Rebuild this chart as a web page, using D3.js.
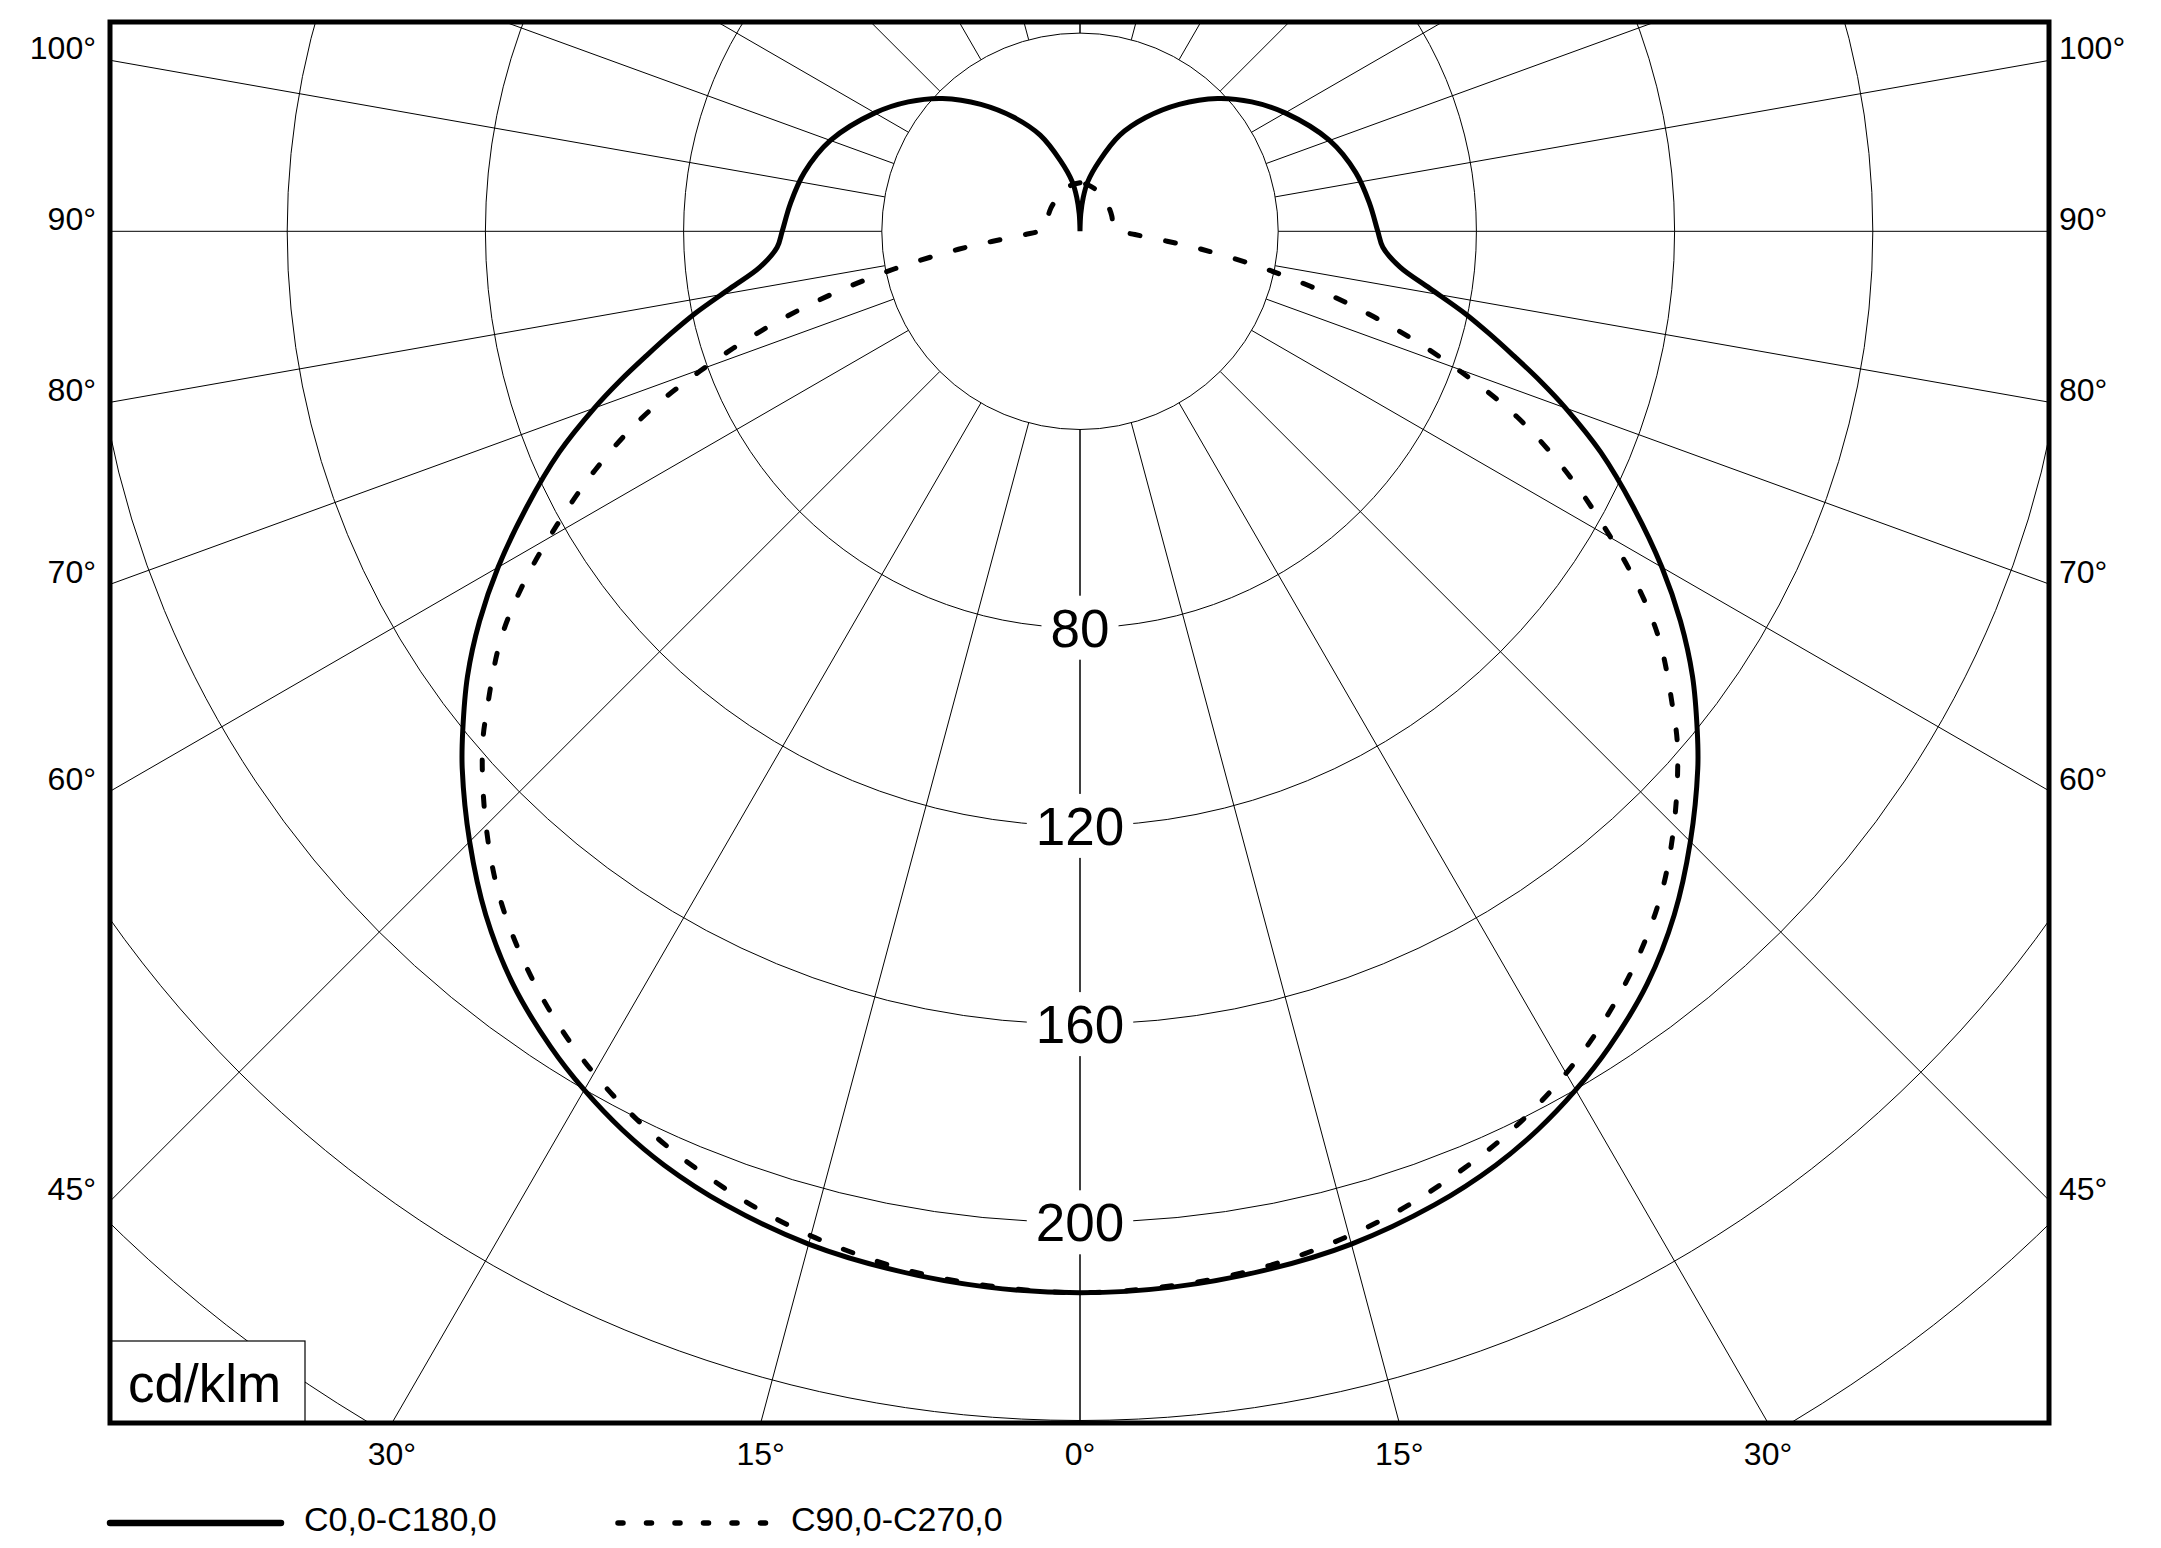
<!DOCTYPE html>
<html>
<head>
<meta charset="utf-8">
<script src="https://cdn.jsdelivr.net/npm/d3@7"></script>
<style>
    body { margin: 0; background: #fff; }
    svg text { font-family: "Liberation Sans", Arial, sans-serif; fill: #000; }
</style>
</head>
<body>
<div id="polarvis"></div>
<script>

// gamma angle (deg from nadir) and luminous intensity (cd/klm)
const gammaC0 = [0, 5, 10, 15, 20, 24, 27, 30, 33, 37, 41, 45, 49, 51, 54, 57, 60, 63.5, 67, 70, 72, 74, 76, 78, 80.7, 83.6, 87, 90, 95.5, 102, 110, 120, 127, 134, 142, 150, 157.5, 164.5, 171, 174.5, 177.5, 180];
const intensityC0 = [214.2, 213.9, 213.0, 211.6, 209.1, 206.3, 203.5, 200.1, 196.2, 190.2, 182.8, 174.2, 165.2, 160.3, 152.8, 144.5, 135.6, 124.8, 114.2, 104.3, 97.6, 91.0, 85.0, 79.3, 71.6, 65.0, 61.2, 60.1, 58.7, 56.9, 53.6, 47.8, 43.4, 38.6, 32.5, 26.5, 21.0, 14.8, 10.2, 6.9, 3.5, 0];

const gammaC90 = [0, 5, 9.3, 13.3, 17.3, 21.2, 25.2, 29.3, 33.2, 37.2, 41.2, 45.1, 49.2, 51.2, 54.8, 57.7, 60.7, 63.8, 67, 69.8, 72.7, 75.6, 78.6, 81.6, 83.5, 86.6, 90, 96, 102, 115, 128, 140, 155, 170, 180];
const intensityC90 = [214.2, 213.6, 212.6, 210.8, 208.4, 205.3, 201.7, 197.1, 191.8, 185.4, 178.0, 169.3, 159.3, 153.5, 143.1, 132.8, 121.0, 109.0, 95.8, 81.7, 67.2, 52.6, 38.0, 24.8, 17.7, 11.1, 8.3, 7.1, 6.8, 7.1, 7.5, 7.9, 8.8, 9.5, 9.8];

// grid
const ringValues = [40, 80, 120, 160, 200, 240, 280];
const ringLabels = [80, 120, 160, 200];
const spokeAngles = [0, 15, 30, 45, 60, 70, 80, 90, 100, 110, 120, 135, 150, 165, 180];
const sideTicks = [100, 90, 80, 70, 60, 45];
const bottomTicks = [30, 15, 0];

const legendNames = ["C0,0-C180,0", "C90,0-C270,0"];
const unitLabel = "cd/klm";


class PolarVis {

    constructor(parentElement) {
        this.parentElement = parentElement;
        this.initVis();
    }

    initVis() {
        let vis = this;

        vis.width = 2161;
        vis.height = 1548;
        vis.frame = {left: 110, top: 22, right: 2049, bottom: 1423};
        vis.cx = 1080;
        vis.cy = 231.3;

        vis.svg = d3.select("#" + vis.parentElement).append("svg")
            .attr("width", vis.width)
            .attr("height", vis.height)
            .style("background", "#fff");

        // radius scale
        vis.r = d3.scaleLinear()
            .domain([0, 40])
            .range([0, 198.2]);

        vis.svg.append("defs").append("clipPath")
            .attr("id", "frame-clip")
            .append("rect")
            .attr("x", vis.frame.left)
            .attr("y", vis.frame.top)
            .attr("width", vis.frame.right - vis.frame.left)
            .attr("height", vis.frame.bottom - vis.frame.top);

        vis.grid = vis.svg.append("g").attr("clip-path", "url(#frame-clip)");

        vis.drawGrid();
        vis.drawCurves();
        vis.drawFrame();
        vis.drawLegend();
    }

    drawGrid() {
        let vis = this;
        const rad = d => d * Math.PI / 180;
        const r0 = vis.r(40);

        // spokes, both sides, starting at the inner ring
        const spokes = [];
        spokeAngles.forEach(a => {
            [-1, 1].forEach(s => spokes.push({a: a, s: s}));
        });

        vis.grid.selectAll(".spoke")
            .data(spokes)
            .enter().append("line")
            .attr("class", "spoke")
            .attr("x1", d => vis.cx + d.s * r0 * Math.sin(rad(d.a)))
            .attr("y1", d => vis.cy + r0 * Math.cos(rad(d.a)))
            .attr("x2", d => vis.cx + d.s * 3000 * Math.sin(rad(d.a)))
            .attr("y2", d => vis.cy + 3000 * Math.cos(rad(d.a)))
            .attr("stroke", "#000")
            .attr("stroke-width", 1);

        vis.grid.selectAll(".ring")
            .data(ringValues)
            .enter().append("circle")
            .attr("class", "ring")
            .attr("cx", vis.cx)
            .attr("cy", vis.cy)
            .attr("r", d => vis.r(d))
            .attr("fill", "none")
            .attr("stroke", "#000")
            .attr("stroke-width", 1);

        // ring value labels on the nadir axis
        const lab = vis.svg.selectAll(".ring-label")
            .data(ringLabels)
            .enter().append("g")
            .attr("class", "ring-label")
            .attr("transform", d => "translate(" + vis.cx + "," + (vis.cy + vis.r(d)) + ")");

        lab.append("rect").attr("fill", "#fff");

        lab.append("text")
            .attr("text-anchor", "middle")
            .attr("dy", "0.36em")
            .style("font-size", "53px")
            .text(d => d);

        lab.each(function() {
            const g = d3.select(this);
            const w = g.select("text").node().getComputedTextLength() + 18;
            g.select("rect")
                .attr("x", -w / 2)
                .attr("y", -32)
                .attr("width", w)
                .attr("height", 64);
        });

        // angle ticks on the sides
        const f = vis.frame;
        sideTicks.forEach(a => {
            const y = vis.cy + (vis.cx - f.left) * Math.cos(rad(a)) / Math.sin(rad(a));
            vis.svg.append("text")
                .attr("x", f.left - 14)
                .attr("y", y - 1)
                .attr("text-anchor", "end")
                .style("font-size", "32px")
                .text(a + "°");
            vis.svg.append("text")
                .attr("x", f.right + 10)
                .attr("y", y - 1)
                .attr("text-anchor", "start")
                .style("font-size", "32px")
                .text(a + "°");
        });

        // angle ticks at the bottom
        bottomTicks.forEach(a => {
            const dx = (f.bottom - vis.cy) * Math.tan(rad(a));
            const xs = a === 0 ? [vis.cx] : [vis.cx - dx, vis.cx + dx];
            xs.forEach(x => {
                vis.svg.append("text")
                    .attr("x", x)
                    .attr("y", 1465)
                    .attr("text-anchor", "middle")
                    .style("font-size", "32px")
                    .text(a + "°");
            });
        });
    }

    drawCurves() {
        let vis = this;

        const toPoints = (gammas, values) => {
            const pts = [];
            // C180 / C270 half on the left, going down from the zenith
            for (let i = gammas.length - 1; i >= 0; i--) {
                pts.push([Math.PI + gammas[i] * Math.PI / 180, values[i]]);
            }
            // C0 / C90 half on the right, back up to the zenith
            for (let i = 1; i < gammas.length; i++) {
                pts.push([Math.PI - gammas[i] * Math.PI / 180, values[i]]);
            }
            return pts;
        };

        const line = d3.lineRadial()
            .angle(d => d[0])
            .radius(d => vis.r(d[1]))
            .curve(d3.curveCatmullRom.alpha(0.5));

        const g = vis.svg.append("g")
            .attr("transform", "translate(" + vis.cx + "," + vis.cy + ")");

        g.append("path")
            .attr("d", line(toPoints(gammaC90, intensityC90)))
            .attr("fill", "none")
            .attr("stroke", "#000")
            .attr("stroke-width", 5)
            .attr("stroke-linecap", "round")
            .attr("stroke-dasharray", "10 26");

        g.append("path")
            .attr("d", line(toPoints(gammaC0, intensityC0)))
            .attr("fill", "none")
            .attr("stroke", "#000")
            .attr("stroke-width", 5)
            .attr("stroke-linejoin", "round");
    }

    drawFrame() {
        let vis = this;
        const f = vis.frame;

        // unit box, lower left
        vis.svg.append("rect")
            .attr("x", f.left)
            .attr("y", 1341)
            .attr("width", 195)
            .attr("height", f.bottom - 1341)
            .attr("fill", "#fff")
            .attr("stroke", "#000")
            .attr("stroke-width", 1.2);

        vis.svg.append("text")
            .attr("x", 128)
            .attr("y", 1402)
            .style("font-size", "53px")
            .text(unitLabel);

        vis.svg.append("rect")
            .attr("x", f.left)
            .attr("y", f.top)
            .attr("width", f.right - f.left)
            .attr("height", f.bottom - f.top)
            .attr("fill", "none")
            .attr("stroke", "#000")
            .attr("stroke-width", 5);
    }

    drawLegend() {
        let vis = this;
        const y = 1523;

        vis.svg.append("line")
            .attr("x1", 110).attr("x2", 281)
            .attr("y1", y).attr("y2", y)
            .attr("stroke", "#000")
            .attr("stroke-width", 6.5)
            .attr("stroke-linecap", "round");

        vis.svg.append("text")
            .attr("x", 304)
            .attr("y", 1531)
            .style("font-size", "34px")
            .text(legendNames[0]);

        vis.svg.append("line")
            .attr("x1", 618).attr("x2", 770)
            .attr("y1", y).attr("y2", y)
            .attr("stroke", "#000")
            .attr("stroke-width", 5.5)
            .attr("stroke-linecap", "round")
            .attr("stroke-dasharray", "5 23.5");

        vis.svg.append("text")
            .attr("x", 791)
            .attr("y", 1531)
            .style("font-size", "34px")
            .text(legendNames[1]);
    }
}

new PolarVis("polarvis");

</script>
</body>
</html>
